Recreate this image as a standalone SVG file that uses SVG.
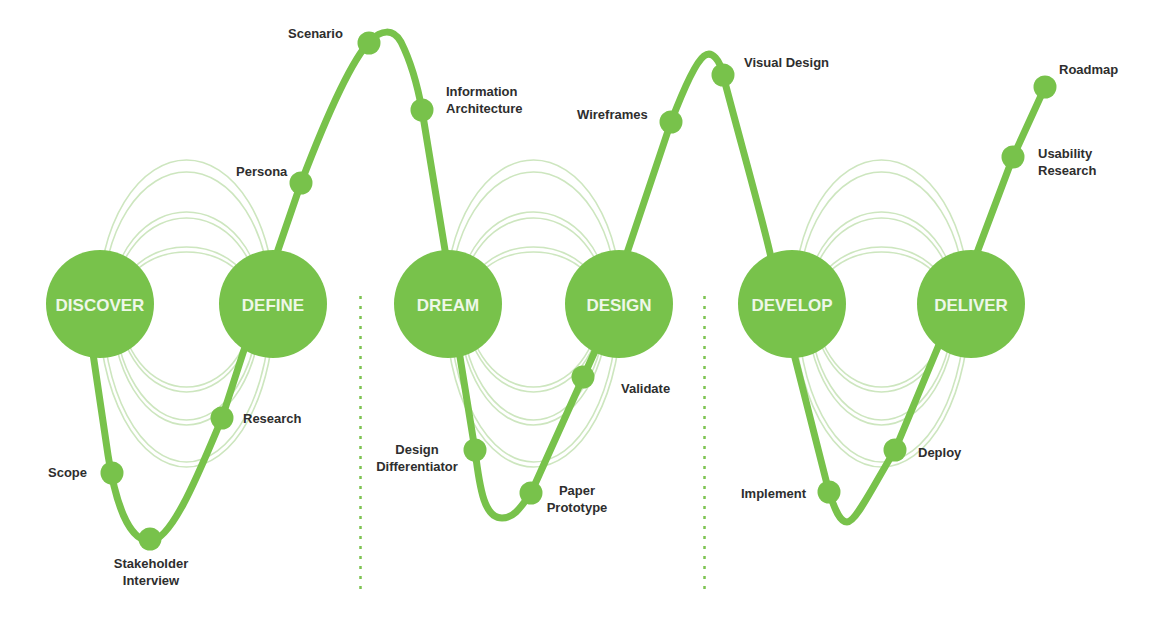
<svg xmlns="http://www.w3.org/2000/svg" width="1166" height="625" viewBox="0 0 1166 625">
<style>
.arc{fill:none;stroke:#cde6bf;stroke-width:1.6}
.sep{stroke:#7dc352;stroke-width:2.5;stroke-dasharray:3 7}
.main{fill:none;stroke:#78c24b;stroke-width:7;stroke-linecap:round;stroke-linejoin:round}
.big{fill:#78c24b}
.dot{fill:#78c24b}
.bt{font-family:"Liberation Sans",Arial,sans-serif;font-weight:bold;font-size:17px;fill:#eef7e8;text-anchor:middle}
.lb{font-family:"Liberation Sans",Arial,sans-serif;font-weight:bold;font-size:13px;fill:#2e2e2e}
.c{text-anchor:middle}
</style>
<defs>
<g id="arcs">
<path class="arc" d="M-88 0 A88 144 0 0 1 88 0 A88 163 0 0 1 -88 0Z"/>
<path class="arc" d="M-84 0 A84 132 0 0 1 84 0 A84 158 0 0 1 -84 0Z"/>
<path class="arc" d="M-75 0 A75 92 0 0 1 75 0 A75 121 0 0 1 -75 0Z"/>
<path class="arc" d="M-72 0 A72 86 0 0 1 72 0 A72 116 0 0 1 -72 0Z"/>
<path class="arc" d="M-68 0 A68 57 0 0 1 68 0 A68 88 0 0 1 -68 0Z"/>
<path class="arc" d="M-66 0 A66 52 0 0 1 66 0 A66 83 0 0 1 -66 0Z"/>
</g>
</defs>
<g id="background-arcs">
<use href="#arcs" transform="translate(186.5 304)"/>
<use href="#arcs" transform="translate(533.5 304)"/>
<use href="#arcs" transform="translate(881.5 304)"/>
</g>
<g id="separators">
<line class="sep" x1="360.5" y1="296" x2="360.5" y2="590"/>
<line class="sep" x1="704.5" y1="296" x2="704.5" y2="590"/>
</g>
<g id="connectors">
<path class="main" d="M88 320 L108 455 C115 500 128 541 150 541 C172 541 200 470 222 418 L243 353 L278 250 L301 183 C325 120 350 62 370 41 C381 30 393 28 401 42 C411 62 418 88 422 110 L445 250 L460 357 L475 450 C480 492 485 518 502 518 C515 518 522 505 531 493 L600 340 L628 250 L671 122 C684 88 696 62 704 56 C712 50 720 60 723 75 C740 140 760 210 770 253 L795 358 L829 492 C835 510 840 522 847 522 C856 522 872 488 895 450 L938 347 L978 250 L1013 157 L1045 87"/>
</g>
<g id="node-discover"><circle class="big" cx="100" cy="304" r="54"/><text class="bt" x="100" y="311">DISCOVER</text></g>
<g id="node-define"><circle class="big" cx="273" cy="304" r="54"/><text class="bt" x="273" y="311">DEFINE</text></g>
<g id="node-dream"><circle class="big" cx="448" cy="304" r="54"/><text class="bt" x="448" y="311">DREAM</text></g>
<g id="node-design"><circle class="big" cx="619" cy="304" r="54"/><text class="bt" x="619" y="311">DESIGN</text></g>
<g id="node-develop"><circle class="big" cx="792" cy="304" r="54"/><text class="bt" x="792" y="311">DEVELOP</text></g>
<g id="node-deliver"><circle class="big" cx="971" cy="304" r="54"/><text class="bt" x="971" y="311">DELIVER</text></g>
<g id="step-scope"><circle class="dot" cx="112" cy="473" r="11.5"/><text class="lb" x="48" y="477">Scope</text></g>
<g id="step-stakeholder"><circle class="dot" cx="150" cy="539" r="11.5"/><text class="lb c" x="151" y="568">Stakeholder</text><text class="lb c" x="151" y="585">Interview</text></g>
<g id="step-research"><circle class="dot" cx="222" cy="418" r="11.5"/><text class="lb" x="243" y="423">Research</text></g>
<g id="step-persona"><circle class="dot" cx="301" cy="183" r="11.5"/><text class="lb" x="236" y="176">Persona</text></g>
<g id="step-scenario"><circle class="dot" cx="369" cy="43" r="11.5"/><text class="lb" x="288" y="38">Scenario</text></g>
<g id="step-ia"><circle class="dot" cx="422" cy="110" r="11.5"/><text class="lb" x="446" y="96">Information</text><text class="lb" x="446" y="113">Architecture</text></g>
<g id="step-differentiator"><circle class="dot" cx="475" cy="450" r="11.5"/><text class="lb c" x="417" y="454">Design</text><text class="lb c" x="417" y="471">Differentiator</text></g>
<g id="step-paper"><circle class="dot" cx="531" cy="493" r="11.5"/><text class="lb c" x="577" y="495">Paper</text><text class="lb c" x="577" y="512">Prototype</text></g>
<g id="step-validate"><circle class="dot" cx="583" cy="377" r="11.5"/><text class="lb" x="621" y="393">Validate</text></g>
<g id="step-wireframes"><circle class="dot" cx="671" cy="122" r="11.5"/><text class="lb" x="577" y="119">Wireframes</text></g>
<g id="step-visual"><circle class="dot" cx="723" cy="75" r="11.5"/><text class="lb" x="744" y="67">Visual Design</text></g>
<g id="step-implement"><circle class="dot" cx="829" cy="492" r="11.5"/><text class="lb" x="741" y="498">Implement</text></g>
<g id="step-deploy"><circle class="dot" cx="895" cy="450" r="11.5"/><text class="lb" x="918" y="457">Deploy</text></g>
<g id="step-usability"><circle class="dot" cx="1013" cy="157" r="11.5"/><text class="lb" x="1038" y="158">Usability</text><text class="lb" x="1038" y="175">Research</text></g>
<g id="step-roadmap"><circle class="dot" cx="1045" cy="87" r="11.5"/><text class="lb" x="1059" y="74">Roadmap</text></g>
</svg>
